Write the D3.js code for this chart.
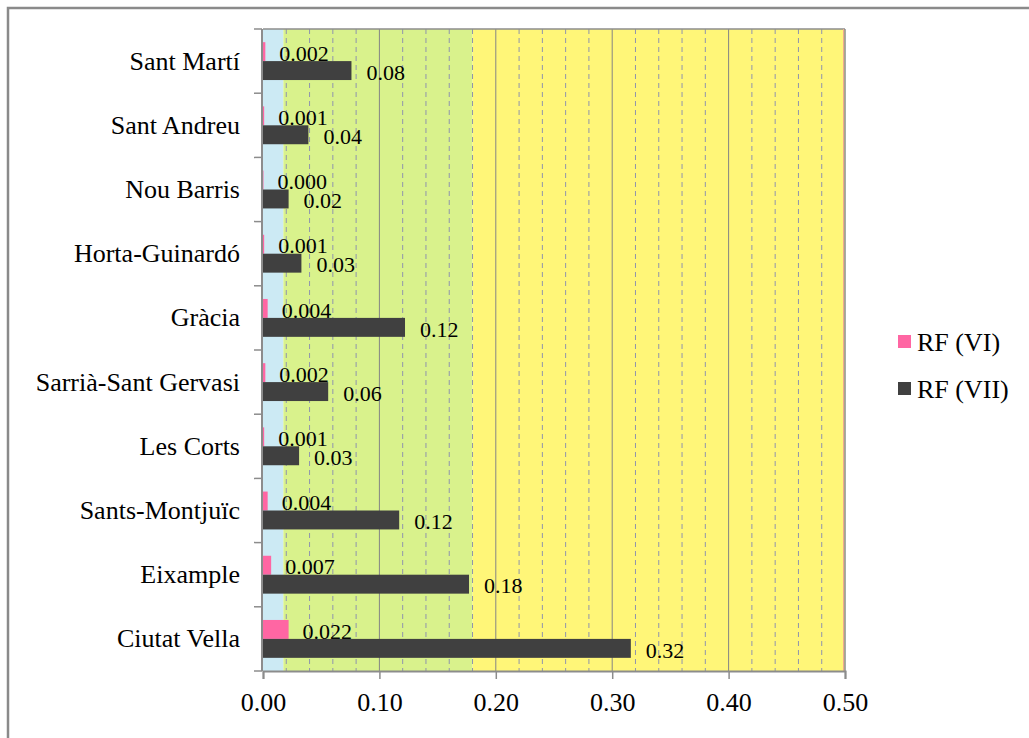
<!DOCTYPE html>
<html>
<head>
<meta charset="utf-8">
<script src="https://cdn.jsdelivr.net/npm/d3@7"></script>
<style>
  html, body { margin: 0; padding: 0; background: #ffffff; }
  svg { display: block; }
  text { font-family: "Liberation Serif", "Times New Roman", Tinos, Times, "DejaVu Serif", "Noto Serif", serif; fill: #000; }
</style>
</head>
<body>
<svg id="chart" width="1029" height="738"></svg>
<script>
// ---- data ----
const categories = ["Sant Martí", "Sant Andreu", "Nou Barris", "Horta-Guinardó", "Gràcia",
  "Sarrià-Sant Gervasi", "Les Corts", "Sants-Montjuïc", "Eixample", "Ciutat Vella"];
const seriesNames = ["RF (VI)", "RF (VII)"];
const rfVI  = [0.002, 0.001, 0.0004, 0.001, 0.004, 0.002, 0.001, 0.004, 0.007, 0.022];
const rfVII = [0.076, 0.039, 0.022, 0.033, 0.122, 0.056, 0.031, 0.117, 0.177, 0.316];
const seriesColors = ["#ff66a3", "#404040"];
const labelFormats = [".3f", ".2f"];
const bandStops = [0, 0.0175, 0.18, 0.5];
const bandColors = ["#cceaf4", "#d9f28c", "#fff678"];
const xTicks = [0, 0.1, 0.2, 0.3, 0.4, 0.5];
const xMinorTicks = [0.02, 0.04, 0.06, 0.08, 0.12, 0.14, 0.16, 0.18, 0.22, 0.24, 0.26, 0.28,
  0.32, 0.34, 0.36, 0.38, 0.42, 0.44, 0.46, 0.48];

const FONT = '"Liberation Serif", "Times New Roman", Tinos, Times, "DejaVu Serif", "Noto Serif", serif';

// ---- layout ----
const svg = d3.select("#chart");
const plot = { left: 263, top: 29, right: 845, bottom: 671 };

// outer frame
svg.append("rect").attr("x", 8).attr("y", 8).attr("width", 1100).attr("height", 1000)
  .attr("fill", "none").attr("stroke", "#8a8a8a").attr("stroke-width", 2.5);

const x = d3.scaleLinear().domain([0, 0.5]).range([plot.left, plot.right]);
const y = d3.scaleBand().domain(categories).range([plot.top, plot.bottom])
  .paddingInner(0.41).paddingOuter(0.205);
const ySub = d3.scaleBand().domain(seriesNames).range([0, y.bandwidth()]);

// background bands
svg.append("g").selectAll("rect").data(bandColors).join("rect")
  .attr("x", (d, i) => x(bandStops[i]))
  .attr("width", (d, i) => x(bandStops[i + 1]) - x(bandStops[i]))
  .attr("y", plot.top).attr("height", plot.bottom - plot.top)
  .attr("fill", d => d);

// minor dashed gridlines
svg.append("g").selectAll("line").data(xMinorTicks).join("line")
  .attr("x1", d => x(d)).attr("x2", d => x(d))
  .attr("y1", plot.top).attr("y2", plot.bottom)
  .attr("stroke", "#8f94ad").attr("stroke-width", 1).attr("stroke-dasharray", "5,4");

// major gridlines
svg.append("g").selectAll("line").data(xTicks.slice(1, -1)).join("line")
  .attr("x1", d => x(d)).attr("x2", d => x(d))
  .attr("y1", plot.top).attr("y2", plot.bottom)
  .attr("stroke", "#858585").attr("stroke-width", 1);

// y axis line (drawn before bars, just left of zero)
svg.append("line").attr("x1", plot.left - 1).attr("x2", plot.left - 1).attr("y1", plot.top).attr("y2", plot.bottom)
  .attr("stroke", "#8c8c8c").attr("stroke-width", 2);

// bars
const allSeries = [rfVI, rfVII];
allSeries.forEach((vals, si) => {
  const g = svg.append("g");
  g.selectAll("rect").data(vals).join("rect")
    .attr("x", x(0))
    .attr("y", (d, i) => y(categories[i]) + ySub(seriesNames[si]))
    .attr("width", d => x(d) - x(0))
    .attr("height", ySub.bandwidth())
    .attr("fill", seriesColors[si]);
  const fmt = d3.format(labelFormats[si]);
  g.selectAll("text").data(vals).join("text")
    .attr("x", d => x(d) + (si === 0 ? 14 : 15))
    .attr("y", (d, i) => y(categories[i]) + ySub(seriesNames[si]) + ySub.bandwidth() / 2 + 1.5)
    .attr("dy", "0.35em")
    .attr("font-family", FONT)
    .attr("font-size", 22)
    .text(d => fmt(d));
});

// plot border (top/right) and faint right line
svg.append("line").attr("x1", plot.left).attr("x2", plot.right).attr("y1", plot.top).attr("y2", plot.top)
  .attr("stroke", "#8c8c8c").attr("stroke-width", 1.5);
svg.append("line").attr("x1", plot.right - 1.5).attr("x2", plot.right - 1.5).attr("y1", plot.top).attr("y2", plot.bottom)
  .attr("stroke", "#f0a890").attr("stroke-width", 1);
svg.append("line").attr("x1", plot.right).attr("x2", plot.right).attr("y1", plot.top).attr("y2", plot.bottom)
  .attr("stroke", "#8c8c8c").attr("stroke-width", 1.5);

// x axis
const xAxis = svg.append("g").attr("transform", `translate(0,${plot.bottom})`)
  .call(d3.axisBottom(x).tickValues(xTicks).tickFormat(d3.format(".2f")).tickSize(8).tickPadding(14));
xAxis.attr("font-family", FONT);
xAxis.select(".domain").attr("stroke", "#8c8c8c").attr("stroke-width", 2);
xAxis.selectAll(".tick line").attr("stroke", "#8c8c8c").attr("stroke-width", 1.5);
xAxis.selectAll(".tick text").attr("font-size", 26).attr("font-family", FONT).attr("fill", "#000");

// y axis boundary ticks
const bounds = categories.map(c => y(c) - y.step() * y.paddingInner() / 2);
bounds.push(plot.bottom);
svg.append("g").selectAll("line").data(bounds).join("line")
  .attr("x1", plot.left - 9).attr("x2", plot.left - 1)
  .attr("y1", d => d).attr("y2", d => d)
  .attr("stroke", "#8c8c8c").attr("stroke-width", 1.5);

// category labels
svg.append("g").selectAll("text").data(categories).join("text")
  .attr("x", 240)
  .attr("y", d => y(d) + y.bandwidth() / 2)
  .attr("dy", "0.33em")
  .attr("text-anchor", "end")
  .attr("font-family", FONT)
  .attr("font-size", 26)
  .text(d => d);

// legend
const legend = svg.append("g");
seriesNames.forEach((s, i) => {
  const cy = 342 + i * 47;
  legend.append("rect").attr("x", 898).attr("y", cy - 7).attr("width", 13).attr("height", 13)
    .attr("fill", seriesColors[i]);
  legend.append("text").attr("x", 917).attr("y", cy).attr("dy", "0.33em")
    .attr("font-family", FONT)
    .attr("font-size", 26).text(s);
});
</script>
</body>
</html>
